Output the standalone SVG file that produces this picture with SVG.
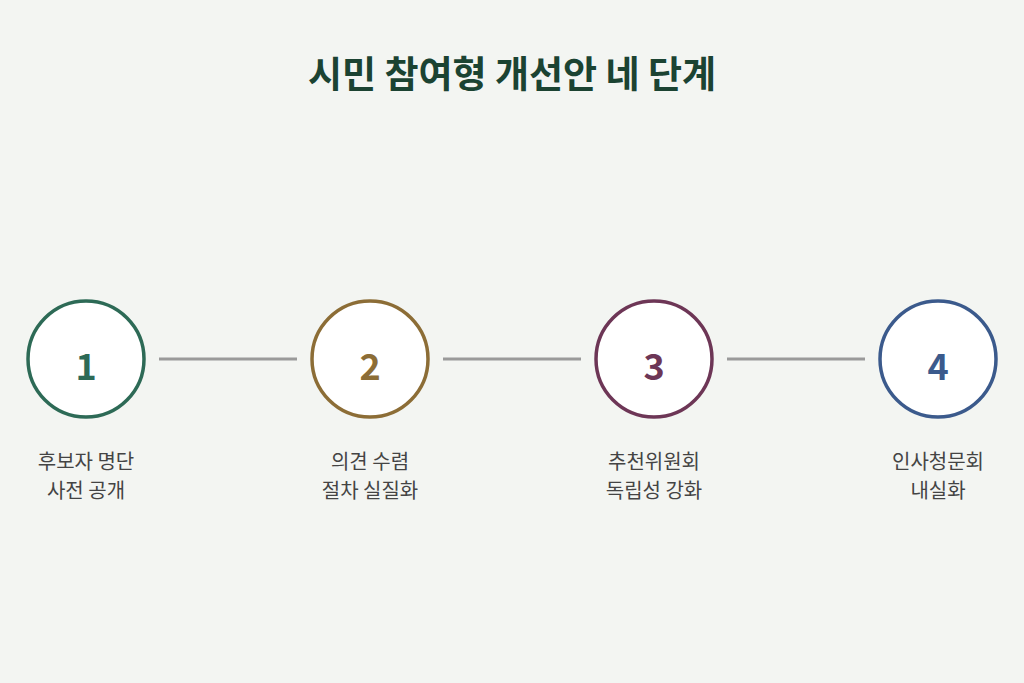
<svg xmlns="http://www.w3.org/2000/svg" width="1024" height="683" viewBox="0 0 1024 683">
<style>
text{font-family:"Noto Sans CJK KR","Noto Sans",sans-serif;text-anchor:middle}
.title{font-size:37px;font-weight:700;fill:#1b4332}
.ring{fill:#ffffff;stroke-width:3.5}
.num{font-size:36px;font-weight:700}
.lbl{font-size:20px;fill:#444444}
.conn{stroke:#9a9a9a;stroke-width:3}
</style>
<rect width="1024" height="683" fill="#f3f5f2"/>
<text class="title" x="512" y="88">시민 참여형 개선안 네 단계</text>
<g id="connectors">
<line class="conn" x1="159" y1="359" x2="297" y2="359"/>
<line class="conn" x1="443" y1="359" x2="581" y2="359"/>
<line class="conn" x1="727" y1="359" x2="865" y2="359"/>
</g>
<g id="step1">
<circle class="ring" cx="86" cy="359" r="58" stroke="#2d6a56"/>
<text class="num" x="86" y="380" fill="#2d6a56">1</text>
<text class="lbl" x="86" y="469">후보자 명단</text>
<text class="lbl" x="86" y="498">사전 공개</text>
</g>
<g id="step2">
<circle class="ring" cx="370" cy="359" r="58" stroke="#8c6d36"/>
<text class="num" x="370" y="380" fill="#8c6d36">2</text>
<text class="lbl" x="370" y="469">의견 수렴</text>
<text class="lbl" x="370" y="498">절차 실질화</text>
</g>
<g id="step3">
<circle class="ring" cx="654" cy="359" r="58" stroke="#6d3656"/>
<text class="num" x="654" y="380" fill="#6d3656">3</text>
<text class="lbl" x="654" y="469">추천위원회</text>
<text class="lbl" x="654" y="498">독립성 강화</text>
</g>
<g id="step4">
<circle class="ring" cx="938" cy="359" r="58" stroke="#3b5a8c"/>
<text class="num" x="938" y="380" fill="#3b5a8c">4</text>
<text class="lbl" x="938" y="469">인사청문회</text>
<text class="lbl" x="938" y="498">내실화</text>
</g>
</svg>
